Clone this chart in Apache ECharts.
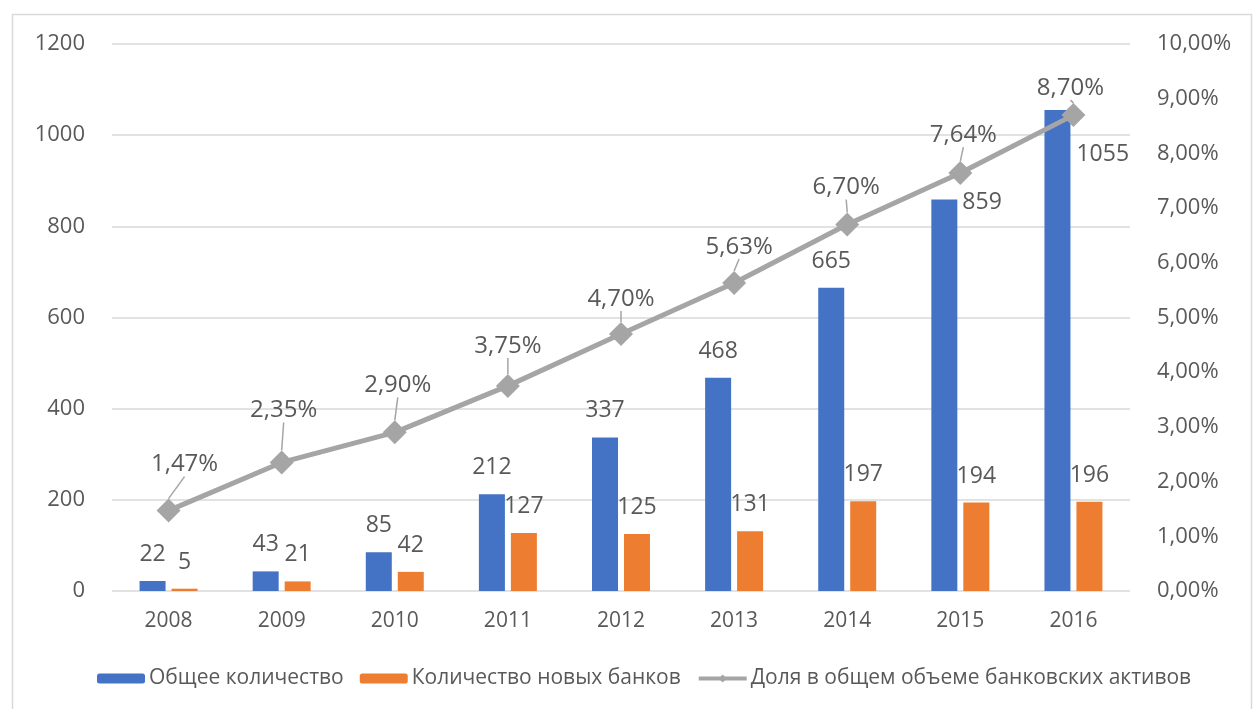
<!DOCTYPE html>
<html>
<head>
<meta charset="utf-8">
<script src="https://cdn.jsdelivr.net/npm/echarts@6/dist/echarts.min.js"></script>
<style>
  html, body { margin: 0; padding: 0; background: #ffffff; }
  #chart { width: 1254px; height: 709px; }
</style>
</head>
<body>
<div id="chart"></div>
<script>
// Years on the category axis
const years = ['2008', '2009', '2010', '2011', '2012', '2013', '2014', '2015', '2016'];
// Total number of banks
const totalBanks = [22, 43, 85, 212, 337, 468, 665, 859, 1055];
// Number of new banks
const newBanks = [5, 21, 42, 127, 125, 131, 197, 194, 196];
// Share of total banking assets, percent
const assetShare = [1.47, 2.35, 2.90, 3.75, 4.70, 5.63, 6.70, 7.64, 8.70];

const seriesNames = ['Общее количество', 'Количество новых банков', 'Доля в общем объеме банковских активов'];

// Label nudges for the share line (dx, dy in pixels), keeping labels clear of bars
const shareLabelShift = [[16, -17], [2, -23], [3, -18], [0, -11], [0, -6], [5, -7], [-1, -8], [3, -9], [-3, 2]];

const textColor = '#595959';
const fontFamily = '"Open Sans", "Noto Sans", sans-serif';
const fmtPct = v => v.toFixed(2).replace('.', ',') + '%';

// Total-bank labels: the two tallest bars carry their label beside the bar
const totalData = totalBanks.map((v, i) => {
  if (i === 7) return { value: v, label: { position: ['100%', 0], align: 'left', verticalAlign: 'middle', offset: [5, 3], distance: 0 } };
  if (i === 8) return { value: v, label: { position: ['100%', 0], align: 'left', verticalAlign: 'middle', offset: [6, 44], distance: 0 } };
  return v;
});

const chart = echarts.init(document.getElementById('chart'), null, { renderer: 'canvas' });

chart.setOption({
  backgroundColor: '#ffffff',
  animation: false,
  textStyle: { fontFamily: fontFamily, color: textColor },
  graphic: [{
    type: 'rect',
    shape: { x: 12.5, y: 14.5, width: 1239, height: 720 },
    style: { fill: 'none', stroke: '#d9d9d9', lineWidth: 1.5 },
    silent: true,
    z: -1
  }],
  grid: { left: 112, right: 124, top: 44, bottom: 118, containLabel: false },
  legend: {
    left: 92,
    top: 663,
    itemWidth: 48,
    itemHeight: 10,
    itemGap: 16,
    textStyle: { fontSize: 21, color: textColor, fontFamily: fontFamily, padding: [0, 0, 0, -1] },
    data: [
      { name: seriesNames[0] },
      { name: seriesNames[1] },
      { name: seriesNames[2], itemStyle: { color: '#A5A5A5' }, lineStyle: { width: 4, color: '#A5A5A5' } }
    ]
  },
  xAxis: {
    type: 'category',
    data: years,
    axisLine: { show: false },
    axisTick: { show: false },
    axisLabel: { fontSize: 21, color: textColor, margin: 20 }
  },
  yAxis: [{
    type: 'value',
    min: 0,
    max: 1200,
    interval: 200,
    axisLine: { show: false },
    axisTick: { show: false },
    axisLabel: { fontSize: 22, color: textColor, margin: 27, formatter: v => String(v) },
    splitLine: { lineStyle: { color: '#d9d9d9', width: 1.5 } }
  }, {
    type: 'value',
    min: 0,
    max: 10,
    interval: 1,
    position: 'right',
    axisLine: { show: false },
    axisTick: { show: false },
    axisLabel: { fontSize: 22, color: textColor, margin: 27, formatter: v => fmtPct(v) },
    splitLine: { show: false }
  }],
  series: [{
    name: seriesNames[0],
    type: 'bar',
    data: totalData,
    barWidth: 26,
    barGap: '23%',
    itemStyle: { color: '#4472C4' },
    label: { show: true, position: 'top', distance: 15, fontSize: 23, color: textColor }
  }, {
    name: seriesNames[1],
    type: 'bar',
    data: newBanks,
    barWidth: 26,
    itemStyle: { color: '#ED7D31' },
    label: { show: true, position: 'top', distance: 15, fontSize: 23, color: textColor }
  }, {
    name: seriesNames[2],
    type: 'line',
    yAxisIndex: 1,
    data: assetShare,
    symbol: 'diamond',
    symbolSize: 24,
    lineStyle: { color: '#A5A5A5', width: 5 },
    itemStyle: { color: '#A5A5A5' },
    z: 5,
    label: {
      show: true,
      position: 'top',
      distance: 5,
      fontSize: 24,
      color: textColor,
      formatter: p => fmtPct(p.value)
    },
    labelLayout: p => ({ dx: shareLabelShift[p.dataIndex][0], dy: shareLabelShift[p.dataIndex][1] }),
    labelLine: { show: true, lineStyle: { color: '#A5A5A5', width: 1.5 } }
  }]
});
</script>
</body>
</html>
